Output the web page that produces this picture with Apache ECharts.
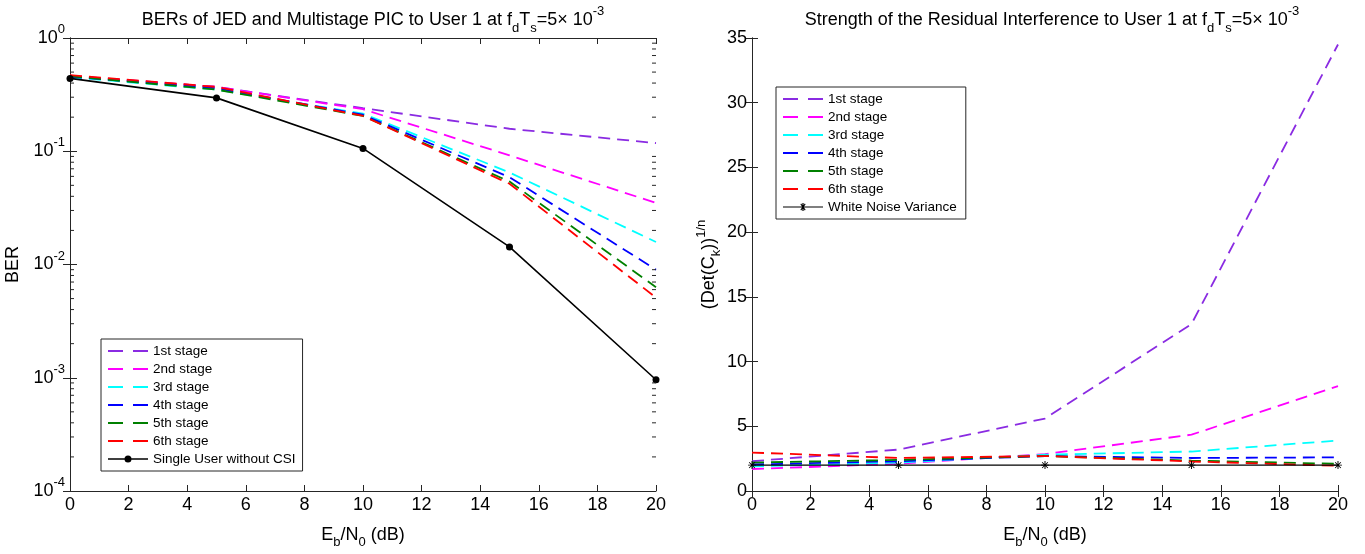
<!DOCTYPE html>
<html>
<head>
<meta charset="utf-8">
<script src="https://cdn.jsdelivr.net/npm/echarts@6.0.0/dist/echarts.min.js"></script>
<style>
html,body{margin:0;padding:0;background:#fff;}
#main{width:1365px;height:554px;}
</style>
</head>
<body>
<div id="main"></div>
<script>
// Eb/N0 points (dB)
var snr = [0, 5, 10, 15, 20];

// left panel: BER
var berStage1 = [0.46, 0.37, 0.24, 0.158, 0.118];
var berStage2 = [0.465, 0.37, 0.235, 0.092, 0.035];
var berStage3 = [0.45, 0.35, 0.215, 0.065, 0.0158];
var berStage4 = [0.455, 0.36, 0.21, 0.059, 0.009];
var berStage5 = [0.46, 0.35, 0.205, 0.054, 0.0063];
var berStage6 = [0.47, 0.37, 0.205, 0.0516, 0.0051];
var berSingle = [0.44, 0.296, 0.106, 0.0143, 0.00096];

// right panel: residual interference
var intf1 = [2.3, 3.2, 5.6, 12.9, 34.5];
var intf2 = [1.7, 2.1, 2.85, 4.35, 8.1];
var intf3 = [1.9, 2.2, 2.8, 3.05, 3.9];
var intf4 = [2.05, 2.3, 2.7, 2.55, 2.6];
var intf5 = [2.2, 2.4, 2.7, 2.35, 2.1];
var intf6 = [2.97, 2.55, 2.7, 2.28, 1.95];
var noiseVar = [2, 2, 2, 2, 2];

var stageNames = ['1st stage', '2nd stage', '3rd stage', '4th stage', '5th stage', '6th stage'];
var stageColors = ['#8a2be2', '#ff00ff', '#00ffff', '#0000ff', '#008000', '#ff0000'];

// log-axis minor tick values (2..9 x 10^e)
var minorTicks = [];
for (var e = -4; e < 0; e++) {
  for (var k = 2; k <= 9; k++) minorTicks.push([0, k * Math.pow(10, e)]);
}

var FONT = 'Liberation Sans';
var AX = '#262626';
var star = 'path://M0,4.4H10V5.6H0Z M4.4,0H5.6V10H4.4Z M1,1.8L1.8,1L9,8.2L8.2,9Z M8.2,1L9,1.8L1.8,9L1,8.2Z';
// legend icons (40 x 14 box)
var iconDash = 'path://M0,0H15V1.8H0Z M25,0H40V1.8H25Z';
var iconDot = 'path://M0,6.3H40V7.7H0Z M23.5,7A3.5,3.5,0,1,1,16.5,7A3.5,3.5,0,1,1,23.5,7Z M0,0H0.01V14H0Z';
var iconStar = 'path://M0,6.4H40V7.6H0Z M19.4,3H20.6V11H19.4Z M17.4,4.2L18.2,3.4L22.6,9.8L21.8,10.6Z M21.8,3.4L22.6,4.2L18.2,10.6L17.4,9.8Z M0,0H0.01V14H0Z';

function pairs(ys) { return snr.map(function (x, i) { return [x, ys[i]]; }); }

var subSup = {
  sub: { fontSize: 13, fontFamily: FONT, color: '#000', verticalAlign: 'bottom', lineHeight: 13 },
  sup: { fontSize: 13, fontFamily: FONT, color: '#000', verticalAlign: 'top', lineHeight: 13 }
};

function xAxes(gi) {
  return [{
    gridIndex: gi, type: 'value', min: 0, max: 20, interval: 2, position: 'bottom',
    name: 'E{sub|b}/N{sub|0} (dB)', nameLocation: 'middle', nameGap: 30,
    nameTextStyle: { fontSize: 18, fontFamily: FONT, color: '#000', lineHeight: 28, rich: subSup },
    axisLine: { lineStyle: { color: AX } },
    axisTick: { inside: true, length: 6, lineStyle: { color: AX } },
    axisLabel: { fontSize: 18, fontFamily: FONT, color: '#000', margin: 5 },
    splitLine: { show: false }
  }, {
    gridIndex: gi, type: 'value', min: 0, max: 20, interval: 2, position: 'top',
    axisLine: { lineStyle: { color: AX } },
    axisTick: { inside: true, length: 6, lineStyle: { color: AX } },
    axisLabel: { show: false }, splitLine: { show: false }
  }];
}

var dash = [12, 7];
var series = [];
var berData = [berStage1, berStage2, berStage3, berStage4, berStage5, berStage6];
var intfData = [intf1, intf2, intf3, intf4, intf5, intf6];
stageNames.forEach(function (n, i) {
  series.push({
    name: n, type: 'line', xAxisIndex: 0, yAxisIndex: 0, data: pairs(berData[i]),
    symbol: 'none', lineStyle: { color: stageColors[i], width: 1.8, type: dash }, itemStyle: { color: stageColors[i] }
  });
});
series.push({
  name: 'Single User without CSI', type: 'line', xAxisIndex: 0, yAxisIndex: 0, data: pairs(berSingle),
  symbol: 'circle', symbolSize: 7, lineStyle: { color: '#000', width: 1.6 }, itemStyle: { color: '#000' }
});
stageNames.forEach(function (n, i) {
  series.push({
    name: n, type: 'line', xAxisIndex: 2, yAxisIndex: 2, data: pairs(intfData[i]),
    symbol: 'none', lineStyle: { color: stageColors[i], width: 1.8, type: dash }, itemStyle: { color: stageColors[i] }
  });
});
series.push({
  name: 'White Noise Variance', type: 'line', xAxisIndex: 2, yAxisIndex: 2, data: pairs(noiseVar),
  symbol: star, symbolSize: 8, lineStyle: { color: '#000', width: 1.2 }, itemStyle: { color: '#000' }
});
series.push({
  type: 'custom', xAxisIndex: 0, yAxisIndex: 0, data: minorTicks, silent: true, z: 5,
  renderItem: function (params, api) {
    var v = api.value(1);
    var a = api.coord([0, v]), b = api.coord([20, v]);
    var st = { stroke: AX, lineWidth: 1 };
    return { type: 'group', children: [
      { type: 'line', shape: { x1: a[0], y1: a[1], x2: a[0] + 4, y2: a[1] }, style: st },
      { type: 'line', shape: { x1: b[0] - 4, y1: b[1], x2: b[0], y2: b[1] }, style: st }
    ] };
  }
});

var legendText = { fontSize: 13.5, fontFamily: FONT, color: '#000' };
function legendItems(last, lastIcon) {
  return stageNames.map(function (n) { return { name: n, icon: iconDash }; })
    .concat([{ name: last, icon: lastIcon }]);
}

var chart = echarts.init(document.getElementById('main'));
chart.setOption({
  animation: false,
  backgroundColor: '#fff',
  title: [{
    text: 'BERs of JED and Multistage PIC to User 1 at f{sub|d}T{sub|s}=5× 10{sup|-3}',
    left: 368, top: 0, textAlign: 'center',
    textStyle: { fontSize: 18, fontWeight: 'normal', fontFamily: FONT, color: '#000', lineHeight: 30, rich: subSup }
  }, {
    text: 'Strength of the Residual Interference to User 1 at f{sub|d}T{sub|s}=5× 10{sup|-3}',
    left: 1047, top: 0, textAlign: 'center',
    textStyle: { fontSize: 18, fontWeight: 'normal', fontFamily: FONT, color: '#000', lineHeight: 30, rich: subSup }
  }],
  legend: [{
    orient: 'vertical', left: 101, top: 339, data: legendItems('Single User without CSI', iconDot),
    itemWidth: 40, itemHeight: 14, itemGap: 4, padding: [5, 7, 5, 7],
    backgroundColor: '#fff', borderColor: AX, borderWidth: 1, borderRadius: 0,
    textStyle: legendText, selectedMode: false
  }, {
    orient: 'vertical', left: 776, top: 87, data: legendItems('White Noise Variance', iconStar),
    itemWidth: 40, itemHeight: 14, itemGap: 4, padding: [5, 9, 5, 7],
    backgroundColor: '#fff', borderColor: AX, borderWidth: 1, borderRadius: 0,
    textStyle: legendText, selectedMode: false
  }],
  grid: [
    { left: 70, top: 38, width: 586, height: 462 },
    { left: 752, top: 38, width: 586, height: 462 }
  ],
  xAxis: xAxes(0).concat(xAxes(1)),
  yAxis: [{
    gridIndex: 0, type: 'log', logBase: 10, min: 1e-4, max: 1, splitNumber: 4, position: 'left',
    name: 'BER', nameLocation: 'middle', nameGap: 48,
    nameTextStyle: { fontSize: 18, fontFamily: FONT, color: '#000' },
    axisLine: { show: true, lineStyle: { color: AX } },
    axisTick: { show: true, inside: true, length: 7, lineStyle: { color: AX } },
    axisLabel: {
      margin: 5,
      formatter: function (v) { return '{b|10}{s|' + Math.round(Math.log10(v)) + '}'; },
      rich: {
        b: { fontSize: 18, fontFamily: FONT, color: '#000', lineHeight: 30 },
        s: { fontSize: 13, fontFamily: FONT, color: '#000', lineHeight: 13, verticalAlign: 'top' }
      }
    },
    splitLine: { show: false }
  }, {
    gridIndex: 0, type: 'log', logBase: 10, min: 1e-4, max: 1, splitNumber: 4, position: 'right',
    axisLine: { show: true, lineStyle: { color: AX } },
    axisTick: { show: true, inside: true, length: 7, lineStyle: { color: AX } },
    axisLabel: { show: false }, splitLine: { show: false }
  }, {
    gridIndex: 1, type: 'value', min: 0, max: 35, interval: 5, position: 'left',
    name: '(Det(C{sub|k})){sup|1/n}', nameLocation: 'middle', nameGap: 28,
    nameTextStyle: { fontSize: 18, fontFamily: FONT, color: '#000', lineHeight: 28, rich: subSup },
    axisLine: { show: true, lineStyle: { color: AX } },
    axisTick: { show: true, inside: true, length: 6, lineStyle: { color: AX } },
    axisLabel: { fontSize: 18, fontFamily: FONT, color: '#000', margin: 5 },
    splitLine: { show: false }
  }, {
    gridIndex: 1, type: 'value', min: 0, max: 35, interval: 5, position: 'right',
    axisLine: { show: true, lineStyle: { color: AX } },
    axisTick: { show: true, inside: true, length: 6, lineStyle: { color: AX } },
    axisLabel: { show: false }, splitLine: { show: false }
  }],
  series: series
});
</script>
</body>
</html>
